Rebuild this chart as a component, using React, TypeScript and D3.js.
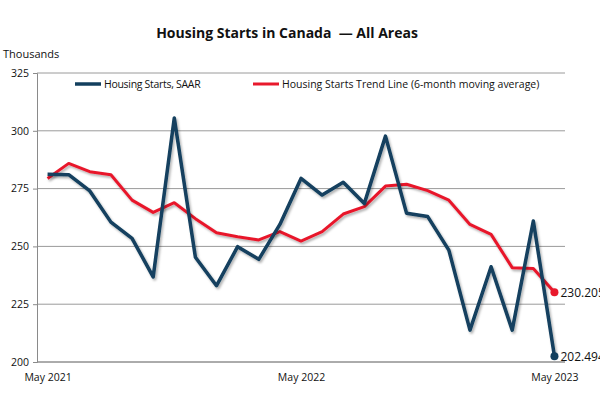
import { useEffect, useRef } from "react";
import * as d3 from "d3";

const months = [
  "May 2021", "Jun 2021", "Jul 2021", "Aug 2021", "Sep 2021", "Oct 2021", "Nov 2021",
  "Dec 2021", "Jan 2022", "Feb 2022", "Mar 2022", "Apr 2022", "May 2022", "Jun 2022",
  "Jul 2022", "Aug 2022", "Sep 2022", "Oct 2022", "Nov 2022", "Dec 2022", "Jan 2023",
  "Feb 2023", "Mar 2023", "Apr 2023", "May 2023",
];
const saar = [
  281.2, 281.0, 274.0, 260.5, 253.5, 236.8, 305.5, 245.3, 233.0, 249.9, 244.4, 259.5,
  279.4, 272.2, 277.7, 268.6, 297.7, 264.3, 262.9, 248.4, 213.8, 241.2, 213.8, 261.0, 202.494,
];
const trend = [
  279.4, 285.9, 282.3, 281.0, 270.0, 264.7, 268.9, 262.0, 255.9, 254.2, 252.8, 256.4,
  252.3, 256.4, 264.0, 267.2, 276.1, 276.9, 274.1, 270.0, 259.5, 255.2, 240.8, 240.4, 230.205,
];
const yTicks = [200, 225, 250, 275, 300, 325];
const xLabels = ["May 2021", "May 2022", "May 2023"];

const font = "Open Sans, Noto Sans, sans-serif";
const blue = "#123f5e";
const red = "#e8192c";

export default function App() {
  const gRef = useRef<SVGGElement>(null);

  useEffect(() => {
    if (!gRef.current) return;
    const g = d3.select(gRef.current);
    g.selectAll("*").remove();

    const left = 37, right = 565, top = 73, bottom = 362;
    const x = d3.scalePoint<string>().domain(months).range([left, right]).padding(0.5);
    const y = d3.scaleLinear().domain([200, 325]).range([bottom, top]);

    // gridlines
    g.selectAll("line.grid")
      .data(yTicks)
      .join("line")
      .attr("class", "grid")
      .attr("x1", left)
      .attr("x2", right)
      .attr("y1", (d) => y(d))
      .attr("y2", (d) => y(d))
      .attr("stroke", "#9a9a9a")
      .attr("stroke-width", 1);

    // y axis
    const yAxis = g.append("g").attr("transform", `translate(${left},0)`)
      .call(d3.axisLeft(y).tickValues(yTicks).tickSize(4).tickPadding(4));
    yAxis.select(".domain").attr("stroke", "#8a8a8a");
    yAxis.selectAll(".tick line").attr("stroke", "#8a8a8a");
    yAxis.selectAll("text").attr("font-family", font).attr("font-size", 10.5).attr("fill", "#111");

    // x axis
    const xAxis = g.append("g").attr("transform", `translate(0,${bottom})`)
      .call(d3.axisBottom(x).tickValues(xLabels).tickSize(0).tickPadding(12));
    xAxis.select(".domain").attr("stroke", "#8a8a8a").attr("d", `M${left},0H${right}`);
    xAxis.selectAll("text").attr("font-family", font).attr("font-size", 10.5).attr("fill", "#111");

    const line = d3.line<number>()
      .x((_, i) => x(months[i]) as number)
      .y((d) => y(d));

    g.append("path")
      .datum(trend)
      .attr("d", line)
      .attr("fill", "none")
      .attr("stroke", red)
      .attr("stroke-width", 3)
      .attr("stroke-linejoin", "round")
      .attr("filter", "url(#shadow)");

    g.append("path")
      .datum(saar)
      .attr("d", line)
      .attr("fill", "none")
      .attr("stroke", blue)
      .attr("stroke-width", 3.5)
      .attr("stroke-linejoin", "round")
      .attr("filter", "url(#shadow)");

    const last = months.length - 1;
    const ends = [
      { v: trend[last], c: red },
      { v: saar[last], c: blue },
    ];
    g.selectAll("circle.end")
      .data(ends)
      .join("circle")
      .attr("class", "end")
      .attr("cx", x(months[last]) as number)
      .attr("cy", (d) => y(d.v))
      .attr("r", 4)
      .attr("fill", (d) => d.c);
    g.selectAll("text.endlbl")
      .data(ends)
      .join("text")
      .attr("class", "endlbl")
      .attr("x", (x(months[last]) as number) + 6)
      .attr("y", (d) => y(d.v) + 4.5)
      .attr("font-family", font)
      .attr("font-size", 12)
      .attr("fill", "#111")
      .text((d) => d.v.toFixed(3));

    // legend
    const legend = [
      { label: "Housing Starts, SAAR", c: blue, w: 3.5, x: 75 },
      { label: "Housing Starts Trend Line (6-month moving average)", c: red, w: 3, x: 253 },
    ];
    const lg = g.selectAll("g.leg").data(legend).join("g").attr("class", "leg")
      .attr("transform", (d) => `translate(${d.x},84)`);
    lg.append("line").attr("x1", 0).attr("x2", 26).attr("y1", 0).attr("y2", 0)
      .attr("stroke", (d) => d.c).attr("stroke-width", (d) => d.w);
    lg.append("text").attr("x", 29).attr("y", 4)
      .attr("font-family", font).attr("font-size", 10.5).attr("fill", "#111")
      .attr("letter-spacing", (_, i) => (i === 0 ? -0.3 : 0))
      .text((d) => d.label);
  }, []);

  return (
    <svg width={600} height={400} style={{ position: "absolute", left: 0, top: 0, background: "#fff" }}>
      <defs>
        <filter id="shadow" x="-5%" y="-5%" width="110%" height="120%">
          <feDropShadow dx="1.5" dy="2" stdDeviation="1.2" floodColor="#000" floodOpacity="0.3" />
        </filter>
      </defs>
      <text x={287} y={38} textAnchor="middle" fontFamily={font} fontSize={14} fontWeight="bold" fill="#111"
        style={{ whiteSpace: "pre" }}>
        {"Housing Starts in Canada  — All Areas"}
      </text>
      <text x={3} y={58} fontFamily={font} fontSize={11} fill="#111">Thousands</text>
      <g ref={gRef} />
    </svg>
  );
}
